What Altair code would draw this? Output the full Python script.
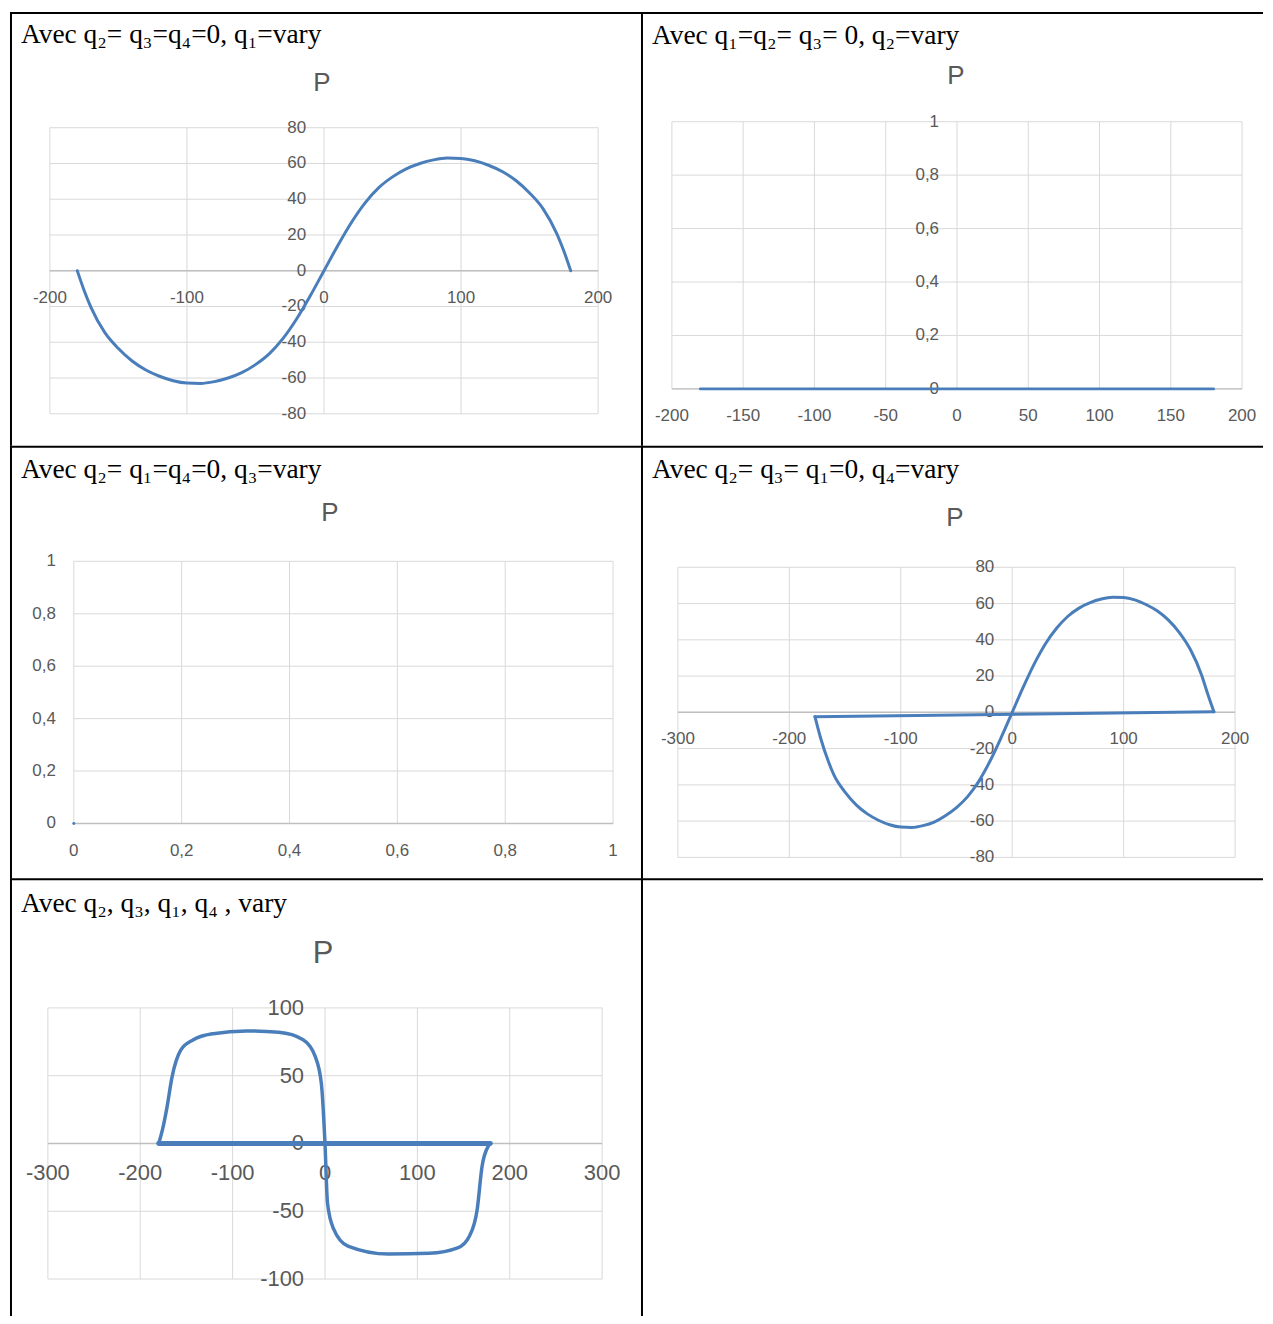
import altair as alt
import pandas as pd

# ---------------- data ----------------
titles = [
    "Avec q₂= q₃=q₄=0, q₁=vary",
    "Avec q₁=q₂= q₃= 0, q₂=vary",
    "Avec q₂= q₁=q₄=0, q₃=vary",
    "Avec q₂= q₃= q₁=0, q₄=vary",
    "Avec q₂, q₃, q₁, q₄ , vary",
]
chart_title = "P"

# panel 1 : q1 varies
q1_vals = [-180, -175, -170, -160, -150, -140, -130, -120, -110, -100, -90, -80, -70, -60, -50,
           -40, -30, -20, -10, 0, 10, 20, 30, 40, 50, 60, 70, 80, 90, 100,
           110, 120, 130, 140, 150, 160, 170, 175, 180]
p1_vals = [0, -11, -20.5, -34.5, -43.5, -50.5, -55.5, -59, -61.5, -62.8, -63, -62, -60, -57, -52.5,
           -46.5, -38, -27, -14, 0, 14, 27, 38, 46.5, 52.5, 57, 60, 62, 63, 62.8,
           61.5, 59, 55.5, 50.5, 43.5, 34.5, 20.5, 11, 0]

# panel 2 : q2 varies (flat at zero)
q2_vals = [-180, -150, -120, -90, -60, -30, 0, 30, 60, 90, 120, 150, 180]
p2_vals = [0, 0, 0, 0, 0, 0, 0, 0, 0, 0, 0, 0, 0]

# panel 3 : q3 varies (nothing visible)
q3_vals = [0, 0]
p3_vals = [0, 0]

# panel 4 : q4 varies (curve + closing segment)
q4_vals = [-177, -172, -165, -160, -150, -140, -130, -120, -110, -100, -90, -80, -70, -60, -50,
           -40, -30, -20, -10, 0, 10, 20, 30, 40, 50, 60, 70, 80, 90, 100,
           110, 120, 130, 140, 150, 160, 170, 175, 181]
p4_vals = [-2.4, -14, -27, -34.5, -44, -51, -56, -59.5, -62, -63.3, -63.5, -62.5, -60.5, -57, -52.5,
           -46.5, -38, -27, -14, 0, 14, 27, 38, 46.5, 53, 57.5, 60.5, 62.5, 63.5, 63.3,
           62, 59.5, 56, 51, 44, 34.5, 20.5, 11, 0.3]
q4_back = [181, -177]
p4_back = [0.3, -2.4]

# panel 5 : all vary
q5_vals = [-180, -176, -171.5, -165.6, -156, -142.5, -121, -85, -50, -23.7, -10.5, -3.9, 0, 2.7,
           9.3, 24.8, 68.8, 112.8, 143.6, 156.6, 164.8, 170, 176.7, 179]
p5_vals = [0, 10, 25, 49, 69, 76.5, 81, 83, 82, 76.5, 64, 44, 0, -44,
           -63, -75.7, -81.6, -81, -77, -68, -48.5, -17, -2, 0]
q5_base = [179, -180]
p5_base = [0, 0]

# ticks / labels
x1_ticks = [-200, -100, 0, 100, 200]
x1_labels = ["-200", "-100", "0", "100", "200"]
y1_ticks = [-80, -60, -40, -20, 0, 20, 40, 60, 80]
y1_labels = ["-80", "-60", "-40", "-20", "0", "20", "40", "60", "80"]

x2_ticks = [-200, -150, -100, -50, 0, 50, 100, 150, 200]
x2_labels = ["-200", "-150", "-100", "-50", "0", "50", "100", "150", "200"]
y2_ticks = [0, 0.2, 0.4, 0.6, 0.8, 1]
y2_labels = ["0", "0,2", "0,4", "0,6", "0,8", "1"]

x3_ticks = [0, 0.2, 0.4, 0.6, 0.8, 1]
x3_labels = ["0", "0,2", "0,4", "0,6", "0,8", "1"]
y3_ticks = [0, 0.2, 0.4, 0.6, 0.8, 1]
y3_labels = ["0", "0,2", "0,4", "0,6", "0,8", "1"]

x4_ticks = [-300, -200, -100, 0, 100, 200]
x4_labels = ["-300", "-200", "-100", "0", "100", "200"]
y4_ticks = [-80, -60, -40, -20, 0, 20, 40, 60, 80]
y4_labels = ["-80", "-60", "-40", "-20", "0", "20", "40", "60", "80"]

x5_ticks = [-300, -200, -100, 0, 100, 200, 300]
x5_labels = ["-300", "-200", "-100", "0", "100", "200", "300"]
y5_ticks = [-100, -50, 0, 50, 100]
y5_labels = ["-100", "-50", "0", "50", "100"]

# ---------------- style ----------------
TITLE_FONT = "Liberation Serif, DejaVu Serif, serif"
LABEL_FONT = "Liberation Sans Narrow, Liberation Sans, sans-serif"
GRID = "#d9d9d9"
AXIS = "#bfbfbf"
LINE = "#4a7ebb"
LABEL = "#595959"
BORDER = "#000000"

ONE = pd.DataFrame({"d": [0]})


def borders(W, H):
    top = alt.Chart(ONE).mark_rule(color=BORDER, strokeWidth=2).encode(
        x=alt.value(0), x2=alt.value(W), y=alt.value(1))
    left = alt.Chart(ONE).mark_rule(color=BORDER, strokeWidth=2).encode(
        x=alt.value(1), y=alt.value(0), y2=alt.value(H))
    return [top, left]


def panel(title, W, H, xdom, xrng, ydom, yrng, xgrid, ygrid, xticks, xlabels, yticks, ylabels,
          curves, title_y, p_xy, p_size, l_size, xl_dy, yl_dx):
    xs = alt.Scale(domain=xdom, range=xrng, nice=False, zero=False)
    ys = alt.Scale(domain=ydom, range=yrng, nice=False, zero=False)
    layers = borders(W, H)

    vg = pd.DataFrame({"x": xgrid, "lo": [ydom[0]] * len(xgrid), "hi": [ydom[1]] * len(xgrid)})
    layers.append(alt.Chart(vg).mark_rule(color=GRID, strokeWidth=1).encode(
        x=alt.X("x:Q", scale=xs, axis=None),
        y=alt.Y("lo:Q", scale=ys, axis=None), y2="hi:Q"))
    hg = pd.DataFrame({"y": ygrid, "lo": [xdom[0]] * len(ygrid), "hi": [xdom[1]] * len(ygrid)})
    layers.append(alt.Chart(hg).mark_rule(color=GRID, strokeWidth=1).encode(
        y=alt.Y("y:Q", scale=ys, axis=None),
        x=alt.X("lo:Q", scale=xs, axis=None), x2="hi:Q"))
    # main horizontal axis line (P = 0)
    ax = pd.DataFrame({"y": [0], "lo": [xdom[0]], "hi": [xdom[1]]})
    layers.append(alt.Chart(ax).mark_rule(color=AXIS, strokeWidth=1.5).encode(
        y=alt.Y("y:Q", scale=ys, axis=None),
        x=alt.X("lo:Q", scale=xs, axis=None), x2="hi:Q"))

    xl = pd.DataFrame({"x": xticks, "y": [0] * len(xticks), "t": xlabels})
    layers.append(alt.Chart(xl).mark_text(font=LABEL_FONT, fontSize=l_size, color=LABEL,
                                          align="center", baseline="middle", dy=xl_dy).encode(
        x=alt.X("x:Q", scale=xs, axis=None), y=alt.Y("y:Q", scale=ys, axis=None), text="t:N"))
    yl = pd.DataFrame({"y": yticks, "x": [0] * len(yticks), "t": ylabels})
    layers.append(alt.Chart(yl).mark_text(font=LABEL_FONT, fontSize=l_size, color=LABEL,
                                          align="right", baseline="middle", dx=yl_dx).encode(
        x=alt.X("x:Q", scale=xs, axis=None), y=alt.Y("y:Q", scale=ys, axis=None), text="t:N"))

    for qs, ps, sw, interp in curves:
        df = pd.DataFrame({"q": qs, "p": ps, "i": list(range(len(qs)))})
        layers.append(alt.Chart(df).mark_line(color=LINE, strokeWidth=sw, strokeJoin="round",
                                              strokeCap="round", interpolate=interp).encode(
            x=alt.X("q:Q", scale=xs, axis=None), y=alt.Y("p:Q", scale=ys, axis=None),
            order="i:Q"))

    layers.append(alt.Chart(ONE).mark_text(text=title, font=TITLE_FONT, fontSize=27.5,
                                           color="#000000", align="left",
                                           baseline="alphabetic").encode(
        x=alt.value(11), y=alt.value(title_y)))
    layers.append(alt.Chart(ONE).mark_text(text=chart_title, font=LABEL_FONT, fontSize=p_size,
                                           color=LABEL, align="center", baseline="middle").encode(
        x=alt.value(p_xy[0]), y=alt.value(p_xy[1])))
    return alt.layer(*layers).properties(width=W, height=H)


W1, W2 = 633, 624
H1, H2, H3 = 435, 434, 439

c1 = panel(titles[0], W1, H1, [-200, 200], [40, 590], [-80, 80], [403, 116],
           x1_ticks, y1_ticks, x1_ticks, x1_labels, y1_ticks, y1_labels,
           [(q1_vals, p1_vals, 3, "monotone")], 31, (313, 71), 26, 17, 27, -18)

c2 = panel(titles[1], W2, H1, [-200, 200], [31, 603], [0, 1], [378, 110],
           x2_ticks, y2_ticks, x2_ticks, x2_labels, y2_ticks, y2_labels,
           [(q2_vals, p2_vals, 3, "linear")], 32, (316, 64), 26, 17, 27, -18)

c3 = panel(titles[2], W1, H2, [0, 1], [64, 605], [0, 1], [379, 116],
           x3_ticks, y3_ticks, x3_ticks, x3_labels, y3_ticks, y3_labels,
           [(q3_vals, p3_vals, 3, "linear")], 32, (321, 68), 26, 17, 28, -18)

c4 = panel(titles[3], W2, H2, [-300, 200], [37, 596], [-80, 80], [413, 122],
           x4_ticks, y4_ticks, x4_ticks, x4_labels, y4_ticks, y4_labels,
           [(q4_back, p4_back, 3, "linear"), (q4_vals, p4_vals, 3, "monotone")],
           32, (315, 73), 26, 17, 27, -18)

c5 = panel(titles[4], W1, H3, [-300, 300], [38, 594], [-100, 100], [402, 130],
           x5_ticks, y5_ticks, x5_ticks, x5_labels, y5_ticks, y5_labels,
           [(q5_base, p5_base, 5, "linear"), (q5_vals, p5_vals, 3.5, "monotone")],
           34, (314, 76), 31, 22, 30, -21)

c6 = alt.layer(*borders(W2, H3)).properties(width=W2, height=H3)

chart = alt.concat(c1, c2, c3, c4, c5, c6, columns=2, spacing=0, bounds="flush",
                   padding=0).configure_view(stroke="transparent")

chart.save("out.html", embed_options={"renderer": "svg", "actions": False})
